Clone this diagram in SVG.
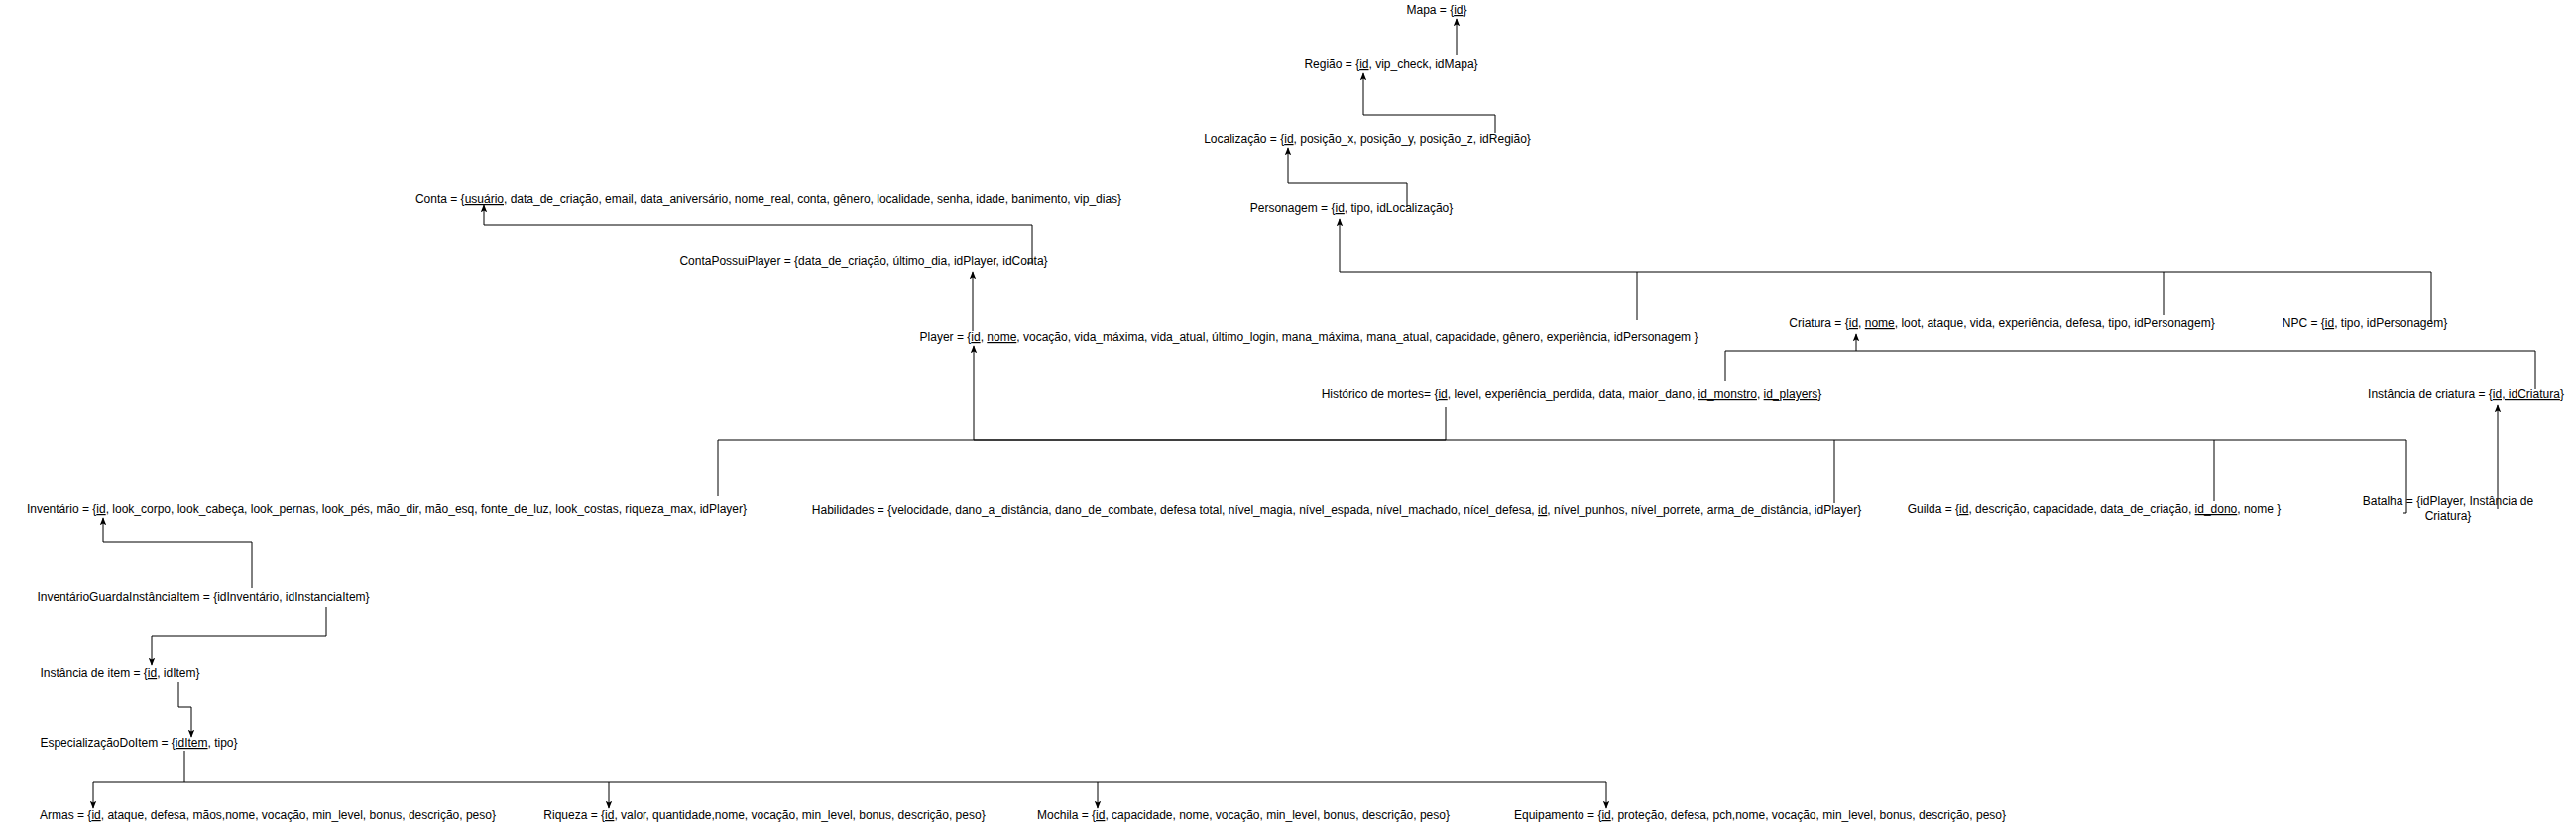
<svg xmlns="http://www.w3.org/2000/svg" width="2598" height="835" viewBox="0 0 2598 835">
<style>
text{font-family:"Liberation Sans",Arial,sans-serif;font-size:12px;fill:#000;text-anchor:middle}
.u{text-decoration:underline}
.e{fill:none;stroke:#000;stroke-width:1}
</style>
<defs>
<marker id="a" viewBox="0 0 10 10" refX="9" refY="5" markerWidth="8" markerHeight="8" markerUnits="userSpaceOnUse" orient="auto">
<path d="M0,1 L10,5 L0,9 L2,5 z" fill="#000"/>
</marker>
</defs>
<rect width="2598" height="835" fill="#fff"/>
<g id="connectors">
<path class="e" d="M1469,55 V19" marker-end="url(#a)"/>
<path class="e" d="M1508,134 V116 H1375 V74" marker-end="url(#a)"/>
<path class="e" d="M1419,209 V185 H1299 V149" marker-end="url(#a)"/>
<path class="e" d="M1651,323 V274 H1351 V221" marker-end="url(#a)"/>
<path class="e" d="M2182,318 V274"/>
<path class="e" d="M2452,325 V274 H1651"/>
<path class="e" d="M981,334 V274" marker-end="url(#a)"/>
<path class="e" d="M1036,265 H1041 V227 H488 V207" marker-end="url(#a)"/>
<path class="e" d="M1740,384 V354 H1872 V337" marker-end="url(#a)"/>
<path class="e" d="M2557,392 V354 H1872"/>
<path class="e" d="M1458,410 V444 H982 V349" marker-end="url(#a)"/>
<path class="e" d="M724,500 V444 H2427 V517 H2424"/>
<path class="e" d="M1850,507 V444"/>
<path class="e" d="M2233,505 V444"/>
<path class="e" d="M2519,513 V408" marker-end="url(#a)"/>
<path class="e" d="M254,593 V547 H104 V522" marker-end="url(#a)"/>
<path class="e" d="M329,612 V641 H153 V671" marker-end="url(#a)"/>
<path class="e" d="M180,688 V713 H193 V743" marker-end="url(#a)"/>
<path class="e" d="M186,757 V789"/>
<path class="e" d="M94,789 H1620"/>
<path class="e" d="M94,789 V815" marker-end="url(#a)"/>
<path class="e" d="M614,789 V815" marker-end="url(#a)"/>
<path class="e" d="M1107,789 V815" marker-end="url(#a)"/>
<path class="e" d="M1620,789 V815" marker-end="url(#a)"/>
</g>
<g id="mapa"><text x="1449" y="14">Mapa = {<tspan class="u">id</tspan>}</text></g>
<g id="regiao"><text x="1403" y="69">Região = {<tspan class="u">id</tspan>, vip_check, idMapa}</text></g>
<g id="localizacao"><text x="1379" y="144">Localização = {<tspan class="u">id</tspan>, posição_x, posição_y, posição_z, idRegião}</text></g>
<g id="personagem"><text x="1363" y="214">Personagem = {<tspan class="u">id</tspan>, tipo, idLocalização}</text></g>
<g id="conta"><text x="775" y="205">Conta = {<tspan class="u">usuário</tspan>, data_de_criação, email, data_aniversário, nome_real, conta, gênero, localidade, senha, idade, banimento, vip_dias}</text></g>
<g id="contapossuiplayer"><text x="871" y="267">ContaPossuiPlayer = {data_de_criação, último_dia, idPlayer, idConta}</text></g>
<g id="player"><text x="1320" y="344">Player = {<tspan class="u">id</tspan>, <tspan class="u">nome</tspan>, vocação, vida_máxima, vida_atual, último_login, mana_máxima, mana_atual, capacidade, gênero, experiência, idPersonagem }</text></g>
<g id="criatura"><text x="2019" y="330">Criatura = {<tspan class="u">id</tspan>, <tspan class="u">nome</tspan>, loot, ataque, vida, experiência, defesa, tipo, idPersonagem}</text></g>
<g id="npc"><text x="2385" y="330">NPC = {<tspan class="u">id</tspan>, tipo, idPersonagem}</text></g>
<g id="historico"><text x="1585" y="401">Histórico de mortes= {<tspan class="u">id</tspan>, level, experiência_perdida, data, maior_dano, <tspan class="u">id_monstro</tspan>, <tspan class="u">id_players</tspan>}</text></g>
<g id="instancia-criatura"><text x="2487" y="401">Instância de criatura = {<tspan class="u">id, idCriatura</tspan>}</text></g>
<g id="inventario"><text x="390" y="517">Inventário = {<tspan class="u">id</tspan>, look_corpo, look_cabeça, look_pernas, look_pés, mão_dir, mão_esq, fonte_de_luz, look_costas, riqueza_max, idPlayer}</text></g>
<g id="habilidades"><text x="1348" y="518">Habilidades = {velocidade, dano_a_distância, dano_de_combate, defesa total, nível_magia, nível_espada, nível_machado, nícel_defesa, <tspan class="u">id</tspan>, nível_punhos, nível_porrete, arma_de_distância, idPlayer}</text></g>
<g id="guilda"><text x="2112" y="517">Guilda = {<tspan class="u">id</tspan>, descrição, capacidade, data_de_criação, <tspan class="u">id_dono</tspan>, nome }</text></g>
<g id="batalha"><text x="2469" y="509">Batalha = {idPlayer, Instância de</text><text x="2469" y="524">Criatura}</text></g>
<g id="inventario-guarda"><text x="205" y="606">InventárioGuardaInstânciaItem = {idInventário, idInstanciaItem}</text></g>
<g id="instancia-item"><text x="121" y="683">Instância de item = {<tspan class="u">id</tspan>, idItem}</text></g>
<g id="especializacao"><text x="140" y="753">EspecializaçãoDoItem = {<tspan class="u">idItem</tspan>, tipo}</text></g>
<g id="armas"><text x="270" y="826">Armas = {<tspan class="u">id</tspan>, ataque, defesa, mãos,nome, vocação, min_level, bonus, descrição, peso}</text></g>
<g id="riqueza"><text x="771" y="826">Riqueza = {<tspan class="u">id</tspan>, valor, quantidade,nome, vocação, min_level, bonus, descrição, peso}</text></g>
<g id="mochila"><text x="1254" y="826">Mochila = {<tspan class="u">id</tspan>, capacidade, nome, vocação, min_level, bonus, descrição, peso}</text></g>
<g id="equipamento"><text x="1775" y="826">Equipamento = {<tspan class="u">id</tspan>, proteção, defesa, pch,nome, vocação, min_level, bonus, descrição, peso}</text></g>
</svg>
